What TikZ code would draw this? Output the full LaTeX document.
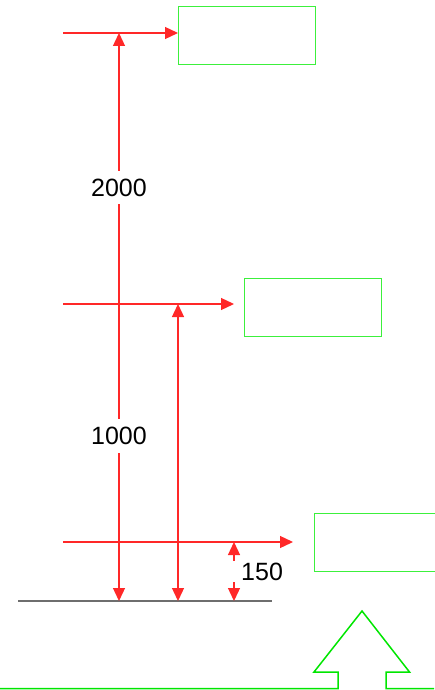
\documentclass[tikz,border=0pt]{standalone}
\usepackage{fontspec}
\setmainfont{Liberation Sans}
\usetikzlibrary{arrows.meta}
\definecolor{dimred}{RGB}{255,40,40}
\definecolor{boxgreen}{RGB}{60,240,60}
\definecolor{arrgreen}{RGB}{0,230,0}
\definecolor{groundgray}{RGB}{110,110,110}
\begin{document}
\begin{tikzpicture}[x=1pt,y=-1pt,
  tip/.tip={Triangle[length=13pt,width=12pt]},
  dimline/.style={draw=dimred,line width=1.3pt,arrows={-tip},color=dimred},
  dimboth/.style={draw=dimred,line width=1.3pt,arrows={tip-tip},color=dimred},
  greenbox/.style={draw=boxgreen,line width=1pt,minimum width=137pt,minimum height=58pt,inner sep=0pt,anchor=north west},
  lbl/.style={fill=white,text=black,font=\fontsize{25}{28}\selectfont,inner xsep=1pt,inner ysep=8pt},
  lblplain/.style={text=black,font=\fontsize{25}{28}\selectfont,inner sep=0pt}]
\useasboundingbox (0,0) rectangle (434,690);
% boxes
\node[greenbox] (box1) at (178,6) {};
\node[greenbox] (box2) at (244,278) {};
\node[greenbox] (box3) at (314,513) {};
% horizontal arrows
\coordinate (s1) at (63,33);
\coordinate (s2) at (63,304);
\coordinate (e2) at (234,304);
\coordinate (s3) at (63,542);
\coordinate (e3) at (293,542);
\draw[dimline] (s1) -- (s1 -| box1.west);
\draw[dimline] (s2) -- (e2);
\draw[dimline] (s3) -- (e3);
% ground
\coordinate (g1) at (18,601);
\coordinate (g2) at (272,601);
\draw[groundgray,line width=1.5pt] (g1) -- (g2);
% vertical dimensions
\coordinate (v1t) at (119,33);
\coordinate (v1b) at (119,601);
\draw[dimboth] (v1t) -- (v1b)
  node[lbl,pos=0.272] (l2000) {2000}
  node[lbl,pos=0.709] (l1000) {1000};
\coordinate (v2t) at (178,304);
\coordinate (v2b) at (178,601);
\draw[dimboth] (v2t) -- (v2b);
\coordinate (v3t) at (234,542);
\coordinate (v3m1) at (234,561);
\coordinate (v3m2) at (234,582);
\coordinate (v3b) at (234,601);
\draw[dimline] (v3m1) -- (v3t);
\draw[dimline] (v3m2) -- (v3b);
\node[lblplain,anchor=west] (l150) at (241,572) {150};
% green arrow outline
\draw[arrgreen,line width=1.5pt,line join=miter]
  (0,688.5) -- (338,688.5) -- (338,672) -- (314,672) -- (362,611)
  -- (409.5,672) -- (386,672) -- (386,688.5) -- (434,688.5);
\end{tikzpicture}
\end{document}
